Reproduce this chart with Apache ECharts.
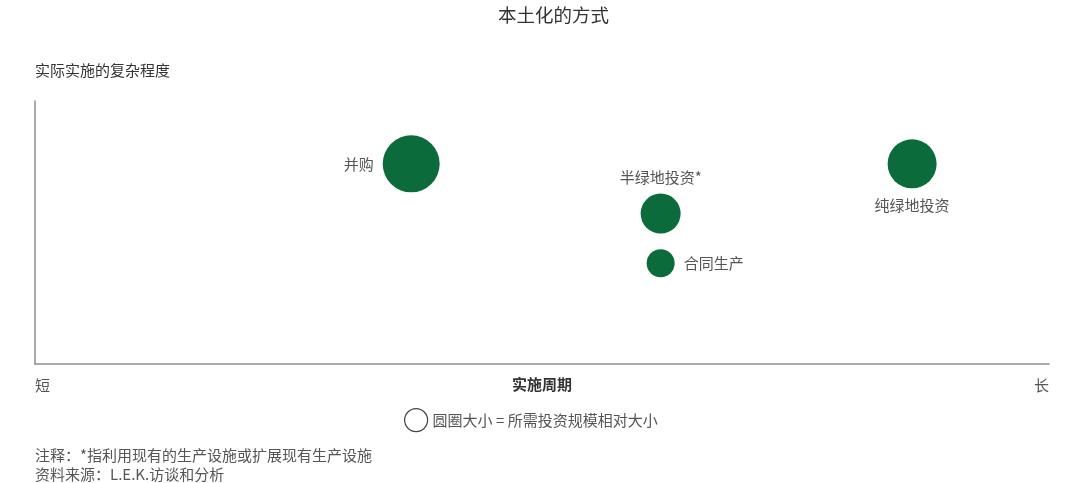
<!DOCTYPE html>
<html>
<head>
<meta charset="utf-8">
<script src="https://cdn.jsdelivr.net/npm/echarts@6/dist/echarts.min.js"></script>
<style>
  html, body { margin: 0; padding: 0; background: #fff; }
  #chart_main { width: 1080px; height: 483px; }
</style>
</head>
<body>
<div id="chart_main"></div>
<script>
// 各进入方式：实施周期 (x)、复杂程度 (y)、投资规模 (气泡直径)
var names = ['并购', '半绿地投资*', '合同生产', '纯绿地投资'];
var period = [37.1, 61.7, 61.7, 86.5];
var complexity = [76.1, 57.2, 38.3, 76.1];
var scale = [57, 40, 28, 49];
var labelPos = ['left', 'top', 'right', 'bottom'];
var xTickLabels = ['短', '长'];

var font = '"Noto Sans CJK SC", "Noto Sans", sans-serif';
var green = '#0b6b3a';
var grey = '#555';
var fs = 15;

var points = names.map(function (n, i) {
    return {
        name: n,
        value: [period[i], complexity[i], scale[i]],
        label: { position: labelPos[i] }
    };
});

var myChart = echarts.init(document.getElementById('chart_main'));
var option = {
    textStyle: { fontFamily: font },
    title: {
        text: '本土化的方式',
        left: 493,
        top: 1,
        textStyle: { fontSize: 18.5, fontWeight: 'normal', color: '#333', fontFamily: font }
    },
    legend: {
        data: ['圆圈大小 = 所需投资规模相对大小'],
        left: 404,
        top: 408,
        padding: 0,
        icon: 'circle',
        itemWidth: 23,
        itemHeight: 23,
        itemStyle: { color: '#fff', borderColor: '#444', borderWidth: 1.2 },
        textStyle: { fontSize: fs, color: grey, fontFamily: font },
        selectedMode: false
    },
    grid: { left: 35, right: 31, top: 101, bottom: 119 },
    xAxis: {
        type: 'value',
        min: 0,
        max: 100,
        interval: 100,
        name: '实施周期',
        nameLocation: 'middle',
        nameGap: 13,
        nameMoveOverlap: false,
        nameTextStyle: { fontSize: fs, fontWeight: 'bold', color: '#333', fontFamily: font },
        axisLine: { lineStyle: { color: '#8a8f95', width: 1.5 } },
        axisTick: { show: false },
        splitLine: { show: false },
        axisLabel: {
            fontSize: fs,
            color: grey,
            margin: 14,
            alignMinLabel: 'left',
            alignMaxLabel: 'right',
            formatter: function (v) { return v === 0 ? xTickLabels[0] : xTickLabels[1]; }
        }
    },
    yAxis: {
        type: 'value',
        min: 0,
        max: 100,
        name: '实际实施的复杂程度',
        nameLocation: 'end',
        nameGap: 23,
        nameTextStyle: { fontSize: fs, color: '#333', align: 'left', fontFamily: font },
        axisLine: { show: true, lineStyle: { color: '#8a8f95', width: 1.5 } },
        axisTick: { show: false },
        axisLabel: { show: false },
        splitLine: { show: false }
    },
    graphic: [
        {
            type: 'text',
            left: 35,
            top: 448,
            style: { text: '注释：*指利用现有的生产设施或扩展现有生产设施', fill: grey, font: fs + 'px ' + font }
        },
        {
            type: 'text',
            left: 35,
            top: 467,
            style: { text: '资料来源：L.E.K.访谈和分析', fill: grey, font: fs + 'px ' + font }
        }
    ],
    series: [{
        name: '圆圈大小 = 所需投资规模相对大小',
        type: 'scatter',
        data: points,
        symbolSize: function (d) { return d[2]; },
        itemStyle: { color: green, opacity: 1 },
        label: {
            show: true,
            formatter: '{b}',
            fontSize: fs,
            color: grey,
            distance: 9
        }
    }]
};
myChart.setOption(option);
</script>
</body>
</html>
